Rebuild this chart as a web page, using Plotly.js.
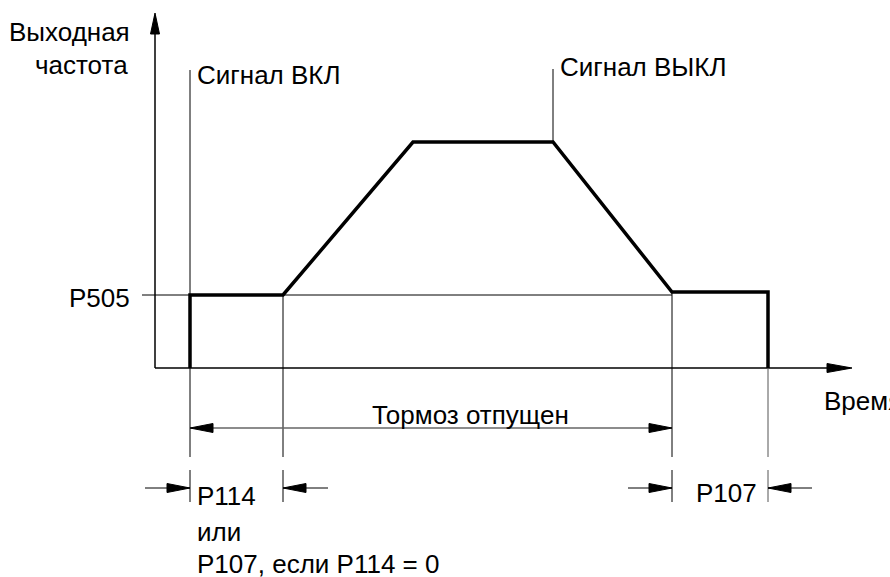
<!DOCTYPE html>
<html>
<head>
<meta charset="utf-8">
<script src="https://cdn.plot.ly/plotly-3.0.1.min.js"></script>
<style>
  html, body { margin: 0; padding: 0; background: #fff; }
  #chart { width: 890px; height: 577px; }
</style>
</head>
<body>
<div id="chart"></div>
<script>
// Output frequency profile (time in arbitrary units, frequency in % of max)
const timePoints = [0.35, 0.35, 1.28, 2.58, 3.98, 5.17, 6.13, 6.13];
const freqPoints = [0, 32.3, 32.3, 100, 100, 33.6, 33.6, 0];

// Event moments
const tOn = 0.35;        // Сигнал ВКЛ
const tRelease = 1.28;   // brake released, ramp starts
const tOff = 3.98;       // Сигнал ВЫКЛ
const tBrake = 5.17;     // brake applied again
const tStop = 6.13;      // output stops
const p505Level = 32.3;
const topLevel = 100;
const endLevel = 33.6;

// pixel helpers (origin of the axes sits at 155,368; 100 px per time unit, 2.26 px per %)
const PX_T = 100, PX_F = 2.26, X0 = 155, Y0 = 368;
const px2t = px => (px - X0) / PX_T;
const py2f = py => (Y0 - py) / PX_F;

const font = { family: 'Liberation Sans, Arial, sans-serif', size: 26, color: '#000' };

function line(x0, y0, x1, y1, color, width) {
    return { type: 'line', xref: 'x', yref: 'y', x0, y0, x1, y1,
             line: { color: color || '#000', width: width || 1 } };
}
// filled arrowhead, sized in pixels, tip at (x, y)
const heads = {
    up: 'M0,0 L-4.5,-21 L4.5,-21 Z',
    right: 'M0,0 L-25,4.5 L-25,-4.5 Z',
    left: 'M0,0 L23,4.5 L23,-4.5 Z',
    rightS: 'M0,0 L-23,4.5 L-23,-4.5 Z'
};
function head(x, y, dir) {
    return { type: 'path', xref: 'x', yref: 'y', xsizemode: 'pixel', ysizemode: 'pixel',
             xanchor: x, yanchor: y, path: heads[dir],
             fillcolor: '#000', line: { color: '#000', width: 1 } };
}

const dimY = py2f(428);
const smallY = py2f(488);
const vEnd = py2f(457);
const tickTop = py2f(470), tickBot = py2f(502);

const shapes = [
    // axes
    line(0, 0, 0, py2f(15), '#000', 1.5),
    line(0, 0, px2t(850), 0, '#000', 1.5),
    // P505 level line
    line(px2t(142), p505Level, tBrake, p505Level),
    // verticals
    line(tOn, py2f(70), tOn, vEnd),
    line(tRelease, p505Level, tRelease, vEnd),
    line(tOff, py2f(69), tOff, topLevel),
    line(tBrake, endLevel, tBrake, vEnd),
    line(tStop, 0, tStop, vEnd, '#555'),
    // ticks for the small dimensions
    line(tOn, tickTop, tOn, tickBot),
    line(tRelease, tickTop, tRelease, tickBot),
    line(tBrake, tickTop, tBrake, tickBot),
    line(tStop, tickTop, tStop, tickBot, '#555'),
    // brake released dimension
    line(tOn, dimY, tBrake, dimY, '#666', 1.5),
    // small arrows
    line(px2t(145), smallY, tOn, smallY),
    line(tRelease, smallY, px2t(328), smallY),
    line(px2t(628), smallY, tBrake, smallY),
    line(tStop, smallY, px2t(812), smallY),
    // arrowheads
    head(0, py2f(13), 'up'),
    head(px2t(852), 0, 'right'),
    head(tOn, dimY, 'left'),
    head(tBrake, dimY, 'rightS'),
    head(tOn, smallY, 'rightS'),
    head(tRelease, smallY, 'left'),
    head(tBrake, smallY, 'rightS'),
    head(tStop, smallY, 'left')
];

function label(text, x, y, anchor) {
    return { text, x, y, xref: 'x', yref: 'y', showarrow: false,
             xanchor: anchor || 'left', yanchor: 'middle', font, borderpad: 0 };
}

const annotations = [
    label('Выходная', px2t(131), py2f(32), 'right'),
    label('частота', px2t(129), py2f(65), 'right'),
    label('Сигнал ВКЛ', px2t(196), py2f(75)),
    label('Сигнал ВЫКЛ', px2t(559), py2f(67)),
    label('P505', px2t(131), py2f(298), 'right'),
    label('Время', px2t(823), py2f(401)),
    label('Тормоз отпущен', px2t(371), py2f(415)),
    label('P114', px2t(196), py2f(496)),
    label('или', px2t(196), py2f(532)),
    label('P107, если P114 = 0', px2t(196), py2f(564)),
    label('P107', px2t(695), py2f(493))
];

const trace = {
    x: timePoints,
    y: freqPoints,
    type: 'scatter',
    mode: 'lines',
    line: { color: '#000', width: 3.5 },
    hoverinfo: 'skip'
};

const layout = {
    width: 890,
    height: 577,
    margin: { l: 0, r: 0, t: 0, b: 0 },
    paper_bgcolor: '#fff',
    plot_bgcolor: '#fff',
    showlegend: false,
    xaxis: { range: [px2t(0), px2t(890)], visible: false, fixedrange: true },
    yaxis: { range: [py2f(577), py2f(0)], visible: false, fixedrange: true },
    shapes,
    annotations
};

Plotly.newPlot('chart', [trace], layout, { displayModeBar: false, staticPlot: true });
</script>
</body>
</html>
